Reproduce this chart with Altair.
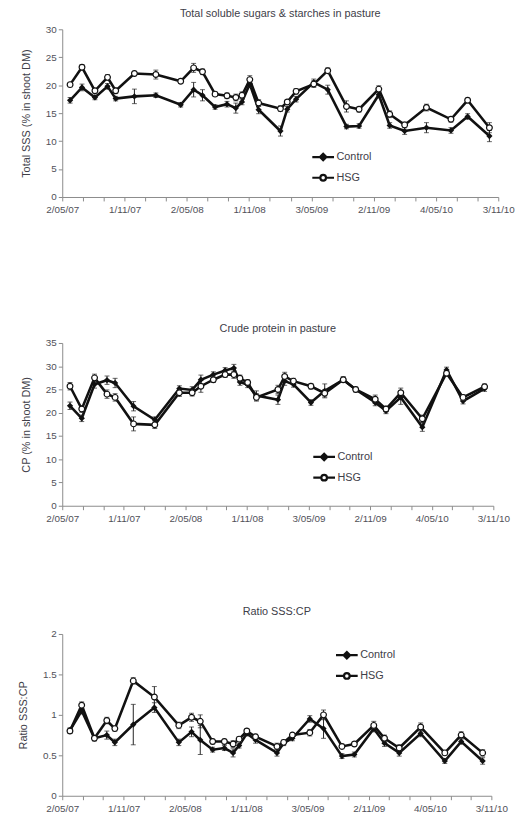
import altair as alt
import pandas as pd
from datetime import datetime, timezone

# ---------------- data ----------------
dates = ["2007-05-25", "2007-06-29", "2007-08-06", "2007-09-12", "2007-10-06",
         "2007-11-30", "2008-02-01", "2008-04-14", "2008-05-22", "2008-06-17",
         "2008-07-24", "2008-08-28", "2008-09-23", "2008-10-11", "2008-11-03",
         "2008-11-29", "2009-02-01", "2009-02-21", "2009-03-19", "2009-05-10",
         "2009-06-20", "2009-08-14", "2009-09-20", "2009-11-17", "2009-12-19",
         "2010-02-01", "2010-04-06", "2010-06-17", "2010-08-05", "2010-10-08"]
series_names = ["Control", "HSG"]

sss_control = [17.3, 19.6, 17.8, 19.8, 17.6, 18.0, 18.2, 16.5, 19.2, 18.2,
               16.1, 16.6, 15.9, 17.0, 20.2, 15.6, 11.8, 15.7, 17.5, 20.5,
               19.2, 12.6, 12.7, 18.3, 12.8, 11.8, 12.4, 11.9, 14.4, 10.9]
sss_hsg = [20.1, 23.2, 19.0, 21.4, 19.0, 22.1, 21.9, 20.7, 23.1, 22.4,
           18.4, 18.1, 17.8, 18.2, 21.0, 16.8, 15.8, 17.0, 18.9, 20.2,
           22.6, 16.2, 15.7, 19.3, 14.8, 12.9, 16.0, 13.9, 17.3, 12.4]
sss_control_err = [0.5, 0.6, 0.4, 0.5, 0.4, 1.3, 0.4, 0.4, 1.3, 1.0,
                   0.4, 0.5, 0.9, 0.5, 0.6, 0.7, 0.9, 0.5, 0.5, 0.6,
                   0.8, 0.4, 0.4, 0.6, 0.5, 0.6, 0.9, 0.5, 0.5, 1.0]
sss_hsg_err = [0.4, 0.5, 0.4, 0.5, 0.5, 0.4, 0.8, 0.4, 0.8, 0.5,
               0.4, 0.5, 0.6, 0.6, 0.7, 0.6, 0.5, 0.4, 0.5, 0.6,
               0.5, 1.0, 0.5, 0.6, 0.6, 0.5, 0.6, 0.5, 0.4, 0.9]

cp_control = [21.5, 18.8, 26.1, 27.0, 26.4, 21.4, 18.5, 25.2, 24.9, 27.1,
              28.2, 29.1, 29.6, 26.6, 26.0, 23.7, 22.8, 26.8, 26.1, 22.2,
              24.7, 27.1, 25.0, 22.2, 20.4, 23.3, 16.9, 29.2, 22.5, 25.2]
cp_hsg = [25.7, 20.8, 27.5, 24.0, 23.3, 17.6, 17.4, 24.3, 24.3, 25.7,
          27.1, 28.2, 28.2, 27.4, 26.5, 23.3, 25.0, 27.8, 26.8, 25.7,
          24.2, 27.1, 25.0, 22.9, 20.8, 24.3, 18.7, 28.5, 23.3, 25.6]
cp_control_err = [0.8, 0.7, 0.8, 0.9, 1.0, 1.0, 0.6, 0.6, 0.7, 1.0,
                  0.6, 0.6, 0.8, 0.7, 0.6, 1.0, 1.0, 0.9, 0.6, 0.6,
                  1.5, 0.6, 0.5, 0.7, 0.6, 1.5, 0.9, 0.6, 0.6, 0.6]
cp_hsg_err = [0.8, 0.7, 0.8, 0.9, 0.8, 1.5, 0.8, 0.8, 0.7, 1.3,
              0.6, 0.6, 0.8, 0.7, 0.6, 0.8, 0.9, 0.9, 0.6, 0.6,
              0.8, 0.6, 0.5, 0.9, 0.6, 1.0, 0.8, 0.6, 0.6, 0.6]

ratio_control = [0.81, 1.05, 0.71, 0.75, 0.66, 0.88, 1.09, 0.66, 0.79, 0.69,
                 0.57, 0.59, 0.53, 0.62, 0.77, 0.69, 0.53, 0.65, 0.71, 0.95,
                 0.83, 0.49, 0.51, 0.83, 0.65, 0.53, 0.77, 0.43, 0.67, 0.43]
ratio_hsg = [0.80, 1.12, 0.71, 0.93, 0.83, 1.42, 1.22, 0.87, 0.97, 0.92,
             0.67, 0.67, 0.64, 0.70, 0.80, 0.73, 0.61, 0.66, 0.75, 0.78,
             1.00, 0.61, 0.64, 0.87, 0.71, 0.59, 0.85, 0.53, 0.75, 0.53]
ratio_control_err = [0.03, 0.04, 0.03, 0.05, 0.04, 0.25, 0.06, 0.04, 0.06, 0.18,
                     0.03, 0.03, 0.05, 0.03, 0.03, 0.04, 0.04, 0.03, 0.03, 0.04,
                     0.12, 0.03, 0.03, 0.04, 0.04, 0.04, 0.04, 0.03, 0.03, 0.04]
ratio_hsg_err = [0.03, 0.04, 0.03, 0.04, 0.03, 0.04, 0.13, 0.04, 0.05, 0.08,
                 0.03, 0.03, 0.04, 0.03, 0.03, 0.03, 0.04, 0.03, 0.03, 0.04,
                 0.06, 0.03, 0.03, 0.05, 0.04, 0.04, 0.05, 0.03, 0.04, 0.04]

axis_start = "2007-05-02"
axis_major_days = 183
axis_minor_days = 61
axis_intervals = 7

# ---------------- helpers ----------------
DAY = 86400000
T0 = int(datetime.strptime(axis_start, "%Y-%m-%d").replace(tzinfo=timezone.utc).timestamp() * 1000)
T1 = T0 + axis_major_days * axis_intervals * DAY
x_ticks = [T0 + i * axis_minor_days * DAY
           for i in range(axis_major_days * axis_intervals // axis_minor_days + 1)]

FONT = "Liberation Sans"
TXT = "#404048"
AX = "#8a8a8a"
INK = "#111111"


def make_df(ctrl, hsg, ctrl_err, hsg_err):
    rows = []
    for name, vals, errs in (("Control", ctrl, ctrl_err), ("HSG", hsg, hsg_err)):
        for d, v, e in zip(dates, vals, errs):
            rows.append({"date": d, "series": name, "value": v,
                         "lo": round(v - e, 3), "hi": round(v + e, 3)})
    return pd.DataFrame(rows)


legend_df = pd.DataFrame({"date": [dates[0], dates[0]], "series": series_names,
                          "value": [None, None]})

LEG_CTRL = "M-1,0H1M0,-0.3L0.3,0L0,0.3L-0.3,0Z"
LEG_HSG = ("M-1,0H-0.26M0.26,0H1M0.26,0A0.26,0.26 0 1 1 -0.26,0"
           "A0.26,0.26 0 1 1 0.26,0Z")

x_axis = alt.Axis(values=x_ticks, title=None, grid=False,
                  labelExpr=f"(datum.value - {T0}) % {axis_major_days * DAY} === 0 ? utcFormat(datum.value, '%-d/%m/%y') : ''",
                  labelFlush=False, labelOverlap=False, labelBound=False,
                  tickSize=4, labelPadding=4)
x_scale = alt.Scale(type="utc", domain=[T0, T1])


def panel(df, title, ytitle, ymax, ystep, width, height, lx, ly, toff):
    yvals = []
    k = 0
    while k * ystep <= ymax + 1e-9:
        yvals.append(round(k * ystep, 3))
        k += 1
    y_scale = alt.Scale(domain=[0, ymax], nice=False)
    y_axis = alt.Axis(values=yvals, title=ytitle, grid=False, format="~g",
                      tickSize=4, titlePadding=14, labelOverlap=False)

    def X():
        return alt.X("date:T", scale=x_scale, axis=x_axis, title=None)

    def Y(field):
        return alt.Y(f"{field}:Q", scale=y_scale, axis=y_axis, title=ytitle)

    base = alt.Chart(df)
    lines = base.mark_line(color=INK, strokeWidth=2.6).encode(
        x=X(), y=Y("value"), detail="series:N")
    err = base.mark_rule(color="#222222", strokeWidth=1).encode(
        x=X(), y=Y("lo"), y2="hi:Q")
    cap_lo = base.mark_tick(color="#222222", thickness=1, size=5, orient="horizontal").encode(
        x=X(), y=Y("lo"))
    cap_hi = base.mark_tick(color="#222222", thickness=1, size=5, orient="horizontal").encode(
        x=X(), y=Y("hi"))
    pts_c = base.transform_filter(alt.datum.series == "Control").mark_point(
        shape="diamond", filled=True, color=INK, size=40, opacity=1).encode(x=X(), y=Y("value"))
    pts_h = base.transform_filter(alt.datum.series == "HSG").mark_point(
        shape="circle", filled=False, fill="white", color=INK, strokeWidth=1.2,
        size=34, opacity=1).encode(x=X(), y=Y("value"))
    leg_props = dict(title=None, orient="none", legendX=lx, legendY=ly,
                     symbolSize=484, symbolStrokeWidth=2.2,
                     labelFont=FONT, labelFontSize=11, labelColor=TXT,
                     rowPadding=0, labelOffset=1)
    leg = alt.Chart(legend_df).mark_point(color=INK, opacity=1, filled=False, strokeWidth=2.2).encode(
        x=X(), y=Y("value"),
        shape=alt.Shape("series:N",
                        scale=alt.Scale(domain=series_names, range=[LEG_CTRL, LEG_HSG]),
                        legend=alt.Legend(**leg_props)),
        fill=alt.Fill("series:N",
                      scale=alt.Scale(domain=series_names, range=[INK, "white"]),
                      legend=alt.Legend(**leg_props)),
    )
    return alt.layer(lines, err, cap_lo, cap_hi, pts_c, pts_h, leg).properties(
        width=width, height=height,
        title=alt.TitleParams(title, fontSize=11, font=FONT, fontWeight="normal",
                              color=TXT, offset=toff, anchor="middle"))


p1 = panel(make_df(sss_control, sss_hsg, sss_control_err, sss_hsg_err),
           "Total  soluble sugars & starches in pasture", "Total SSS (% in shoot DM)",
           30, 5, 442, 170, 252, 117, 5)
p2 = panel(make_df(cp_control, cp_hsg, cp_control_err, cp_hsg_err),
           "Crude protein in pasture", "CP (% in shoot DM)",
           35, 5, 437, 165, 253, 103, 4)
p3 = panel(make_df(ratio_control, ratio_hsg, ratio_control_err, ratio_hsg_err),
           "Ratio SSS:CP", "Ratio SSS:CP",
           2, 0.5, 435, 164, 276, 9, 12)

inner = alt.vconcat(p2, p3, spacing=84).resolve_scale(
    shape="independent", fill="independent").resolve_legend(
    shape="independent", fill="independent")

chart = alt.vconcat(p1, inner, spacing=110).resolve_scale(
    shape="independent", fill="independent").resolve_legend(
    shape="independent", fill="independent").configure_view(
    stroke=None
).configure_axis(
    labelFont=FONT, labelFontSize=10, labelColor="#505058",
    titleFont=FONT, titleFontSize=11, titleColor=TXT, titleFontWeight="normal",
    domainColor=AX, tickColor=AX, labelOverlap=False
).properties(padding={"left": 10, "top": -5, "right": 2, "bottom": 2})

chart.save("out.html", embed_options={"renderer": "svg", "actions": False})
